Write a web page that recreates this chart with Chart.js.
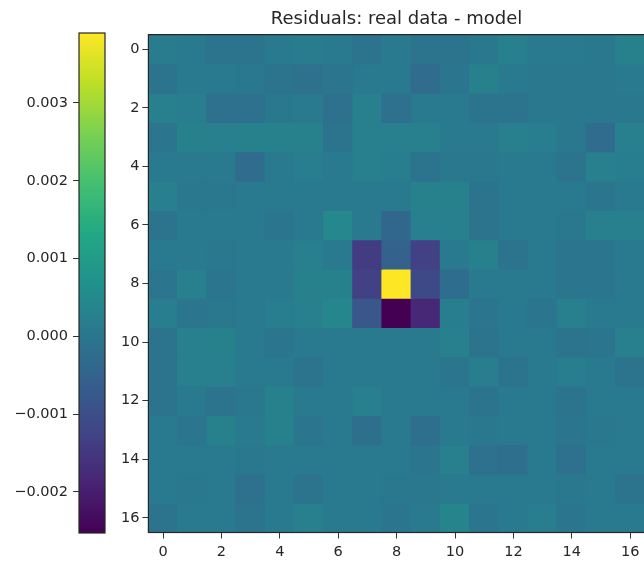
<!DOCTYPE html>
<html>
<head>
<meta charset="utf-8">
<script src="https://cdn.jsdelivr.net/npm/chart.js@4.4.0/dist/chart.umd.min.js"></script>
<style>
  html, body { margin: 0; padding: 0; background: #fff; overflow: hidden; }
  #wrap { position: relative; width: 644px; height: 561px; overflow: hidden; }
  canvas { position: absolute; top: 0; }
  #cbar { left: 0; }
  #heat { left: 118px; }
</style>
</head>
<body>
<div id="wrap">
  <canvas id="cbar" width="112" height="561"></canvas>
  <canvas id="heat" width="532" height="561"></canvas>
</div>
<script>
/* ---------- data ---------- */
const rowIdx = [0, 1, 2, 3, 4, 5, 6, 7, 8, 9, 10, 11, 12, 13, 14, 15, 16];
const colIdx = [0, 1, 2, 3, 4, 5, 6, 7, 8, 9, 10, 11, 12, 13, 14, 15, 16];
const xTicks = [0, 2, 4, 6, 8, 10, 12, 14, 16];
const yTicks = [0, 2, 4, 6, 8, 10, 12, 14, 16];
const cbarTicks = [-0.002, -0.001, 0, 0.001, 0.002, 0.003];

// residual image, one array per row (row 0 at the top)
const residuals = [
  [ 0.00013,  0.0001,  -0.00005, -0.00005,  0.0001,   0.00013,  0.0001,  -0.00008,  0.0001,  -0.00008, -0.00008,  0.00004,  0.00022,  0.0001,   0.0001,   0.00004,  0.00028 ],
  [-0.00008,  0.0001,   0.0001,   0.00004, -0.00008, -0.00014, -0.00002,  0.0001,   0.0001,  -0.00026, -0.00002,  0.00028,  0.0001,   0.00004,  0.00004,  0.00004,  0.0001  ],
  [ 0.00022,  0.00016, -0.00014, -0.00014,  0.00004,  0.0001,  -0.00014,  0.00022, -0.00014,  0.0001,   0.0001,  -0.00008, -0.00008,  0.00004,  0.00004,  0.00004,  0.00004 ],
  [-0.00002,  0.00028,  0.00022,  0.00028,  0.00028,  0.00028, -0.00008,  0.00022,  0.00022,  0.00022,  0.0001,   0.0001,   0.00022,  0.00016,  0.00004, -0.00026,  0.00022 ],
  [ 0.0001,   0.0001,   0.0001,  -0.00026,  0.0001,   0.00016,  0.0001,   0.00022,  0.00016, -0.00008,  0.00004,  0.00004,  0.0001,   0.0001,  -0.00008,  0.00022,  0.00016 ],
  [ 0.00022,  0.00004,  0.00004,  0.0001,   0.0001,   0.0001,   0.0001,   0.0001,   0.0001,   0.00028,  0.00028, -0.00008,  0.0001,   0.0001,   0.0001,  -0.00002,  0.0001  ],
  [-0.00008,  0.0001,   0.0001,   0.0001,  -0.00002,  0.0001,   0.00046,  0.0001,  -0.0004,   0.00022,  0.00022, -0.00008,  0.0001,   0.0001,   0.00004,  0.00022,  0.00022 ],
  [ 0.0001,   0.0001,   0.00004,  0.0001,   0.0001,   0.00022,  0.0001,  -0.0014,  -0.0005,  -0.0013,   0.0001,   0.00028, -0.00008,  0.0001,  -0.00002, -0.00002,  0.0001  ],
  [-0.00002,  0.00022, -0.00002,  0.0001,   0.0001,   0.00028,  0.00028, -0.0013,   0.0039,  -0.0011,  -0.00025,  0.0001,   0.0001,   0.0001,  -0.00002, -0.00002,  0.0001  ],
  [ 0.00016, -0.00002,  0.00004,  0.0001,   0.00016,  0.00022,  0.0004,  -0.0008,  -0.00253, -0.0018,   0.00016, -0.00002,  0.0001,  -0.00002,  0.00022,  0.0001,   0.0001  ],
  [-0.00008,  0.00022,  0.00028,  0.0001,  -0.00002,  0.0001,   0.0001,   0.0001,   0.0001,   0.0001,   0.00022, -0.00008,  0.0001,   0.0001,  -0.00008, -0.00002,  0.00022 ],
  [-0.00008,  0.00022,  0.00022,  0.0001,   0.0001,  -0.00008,  0.0001,   0.0001,   0.0001,   0.0001,  -0.00002,  0.00016, -0.00008,  0.0001,   0.00016,  0.0001,  -0.00008 ],
  [-0.00008,  0.0001,  -0.00008,  0.00004,  0.00028,  0.0001,   0.0001,   0.00022,  0.0001,   0.0001,   0.0001,  -0.00008,  0.0001,   0.0001,  -0.00008,  0.0001,   0.0001  ],
  [ 0.0001,  -0.00002,  0.00028,  0.0001,   0.00028, -0.00002,  0.0001,  -0.0002,   0.0001,  -0.0002,   0.0001,   0.00004,  0.0001,   0.0001,  -0.00002,  0.00004,  0.0001  ],
  [ 0.0001,   0.0001,   0.0001,   0.00004,  0.0001,   0.0001,   0.0001,   0.0001,   0.0001,  -0.00002,  0.00022, -0.00014, -0.0002,   0.0001,  -0.00014,  0.0001,   0.0001  ],
  [ 0.0001,   0.00004,  0.0001,  -0.00014,  0.0001,  -0.00008,  0.0001,   0.0001,   0.00004,  0.00004,  0.0001,   0.0001,   0.0001,   0.0001,   0.00004,  0.0001,  -0.00008 ],
  [-0.00008,  0.0001,   0.0001,  -0.00008,  0.0001,   0.00022,  0.0001,   0.0001,  -0.00002,  0.0001,   0.00034, -0.00002,  0.0001,   0.00016, -0.00002,  0.0001,   0.0001  ]
];

/* ---------- colour map ---------- */
const VIRIDIS = ['#440154', '#482475', '#414487', '#355f8d', '#2a788e', '#21918c',
                 '#22a884', '#44bf70', '#7ad151', '#bddf26', '#fde725'];

const vmin = Math.min(...residuals.flat());
const vmax = Math.max(...residuals.flat());

function hexRgb(h) {
  return [1, 3, 5].map(i => parseInt(h.slice(i, i + 2), 16));
}

function viridis(t) {
  t = Math.max(0, Math.min(1, t));
  const p = t * (VIRIDIS.length - 1);
  const i = Math.min(Math.floor(p), VIRIDIS.length - 2);
  const f = p - i;
  const a = hexRgb(VIRIDIS[i]), b = hexRgb(VIRIDIS[i + 1]);
  const c = a.map((v, k) => Math.round(v + (b[k] - v) * f));
  return `rgb(${c[0]},${c[1]},${c[2]})`;
}

const colorFor = v => viridis((v - vmin) / (vmax - vmin));

/* ---------- shared bits ---------- */
Chart.defaults.font.family = "'DejaVu Sans', sans-serif";
Chart.defaults.color = '#262626';

const TICK_FONT = { size: 14.5 };
const fmtCbar = v => (v < 0 ? '\u2212' : '') + Math.abs(v).toFixed(3);

// frame round the plot area (matplotlib spines)
const outline = {
  id: 'outline',
  afterDatasetsDraw(chart) {
    const { ctx, chartArea: a } = chart;
    ctx.save();
    ctx.strokeStyle = '#262626';
    ctx.lineWidth = 1.2;
    ctx.strokeRect(a.left, a.top, a.right - a.left, a.bottom - a.top);
    ctx.restore();
  }
};

/* ---------- colourbar ---------- */
new Chart(document.getElementById('cbar'), {
  type: 'bar',
  data: {
    labels: [''],
    datasets: [{
      data: [[vmin, vmax]],
      borderWidth: 0,
      backgroundColor: (c) => {
        const area = c.chart.chartArea;
        if (!area) return VIRIDIS[5];
        const g = c.chart.ctx.createLinearGradient(0, area.bottom, 0, area.top);
        VIRIDIS.forEach((col, i) => g.addColorStop(i / (VIRIDIS.length - 1), col));
        return g;
      },
    }],
  },
  options: {
    responsive: false,
    animation: false,
    layout: { padding: { top: 33, bottom: 28, right: 7 } },
    datasets: { bar: { barPercentage: 1, categoryPercentage: 1 } },
    plugins: { legend: { display: false }, tooltip: { enabled: false } },
    scales: {
      x: { display: false },
      y: {
        min: vmin,
        max: vmax,
        afterBuildTicks: s => { s.ticks = cbarTicks.map(v => ({ value: v })); },
        afterFit: s => { s.width = 79; },
        grid: { drawOnChartArea: false, tickLength: 6, tickColor: '#333' },
        border: { display: false },
        ticks: { padding: 5, font: TICK_FONT, callback: v => fmtCbar(v) },
      },
    },
  },
  plugins: [outline],
});

/* ---------- residual image ---------- */
new Chart(document.getElementById('heat'), {
  type: 'bar',
  data: {
    datasets: rowIdx.map(r => ({
      label: 'row ' + r,
      data: colIdx.map(c => ({ x: c, y: [r - 0.5, r + 0.5] })),
      backgroundColor: residuals[r].map(colorFor),
    })),
  },
  options: {
    responsive: false,
    animation: false,
    layout: { padding: { right: 5.2 } },
    datasets: {
      bar: { grouped: false, barPercentage: 1, categoryPercentage: 1, borderWidth: 0, inflateAmount: 0.6 },
    },
    plugins: {
      legend: { display: false },
      tooltip: { enabled: false },
      title: {
        display: true,
        text: 'Residuals: real data - model',
        fullSize: false,
        color: '#262626',
        font: { size: 18, weight: 'normal' },
        padding: { top: 9, bottom: 4 },
      },
    },
    scales: {
      x: {
        type: 'linear',
        position: 'bottom',
        min: -0.5,
        max: 16.5,
        offset: false,
        afterBuildTicks: s => { s.ticks = xTicks.map(v => ({ value: v })); },
        afterFit: s => { s.height = 28.5; },
        grid: { offset: false, drawOnChartArea: false, tickLength: 6, tickColor: '#333' },
        border: { display: false },
        ticks: { padding: 5, maxRotation: 0, autoSkip: false, font: TICK_FONT },
      },
      y: {
        type: 'linear',
        reverse: true,
        min: -0.5,
        max: 16.5,
        offset: false,
        afterBuildTicks: s => { s.ticks = yTicks.map(v => ({ value: v })); },
        afterFit: s => { s.width = 30.4; },
        grid: { offset: false, drawOnChartArea: false, tickLength: 6, tickColor: '#333' },
        border: { display: false },
        ticks: { padding: 3, autoSkip: false, font: TICK_FONT },
      },
    },
  },
  plugins: [outline],
});
</script>
</body>
</html>
